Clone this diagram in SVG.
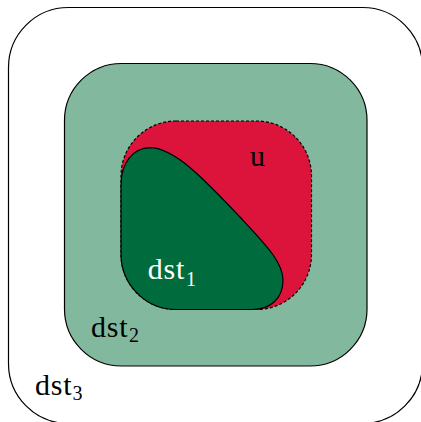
<svg xmlns="http://www.w3.org/2000/svg" width="421" height="422" viewBox="0 0 421 422">
<style>
text{font-family:'Liberation Serif','DejaVu Serif',serif;font-size:30px;font-weight:normal;letter-spacing:0.8px}
.sub{font-size:20px;letter-spacing:0}
.edge{stroke:#000;stroke-width:1.2}
</style>
<rect x="0" y="0" width="421" height="422" fill="#fff"/>
<g id="dst3">
<rect class="edge" x="8.5" y="7.5" width="414" height="416" rx="60" ry="60" fill="#fff"/>
<text x="35" y="394.5" fill="#000">dst<tspan class="sub" x="72.5" y="399.5">3</tspan></text>
</g>
<g id="dst2">
<rect class="edge" x="64.5" y="63.5" width="302.5" height="302.5" rx="57" ry="57" fill="#81b89e"/>
<text x="91" y="336.7" fill="#000">dst<tspan class="sub" x="129" y="342">2</tspan></text>
</g>
<g id="u">
<rect class="edge" x="121" y="121" width="190.5" height="188.5" rx="55" ry="55" fill="#dc143c" stroke-dasharray="3 2"/>
<text x="250" y="165.7" fill="#000">u</text>
</g>
<g id="dst1">
<path class="edge" fill="#006b3c" d="M 150 147.7 C 175 148 205 180 240 217 C 265 244 283 262 283 280 C 283 298 271 309.5 252 309.5 L 176 309.5 C 145.6 309.5 121 284.4 121 254 L 121 185 C 121 163 133 148 150 147.7 Z"/>
<text x="147.7" y="279.3" fill="#fff">dst<tspan class="sub" x="186" y="285.5">1</tspan></text>
</g>
<g id="connectors"/>
</svg>
